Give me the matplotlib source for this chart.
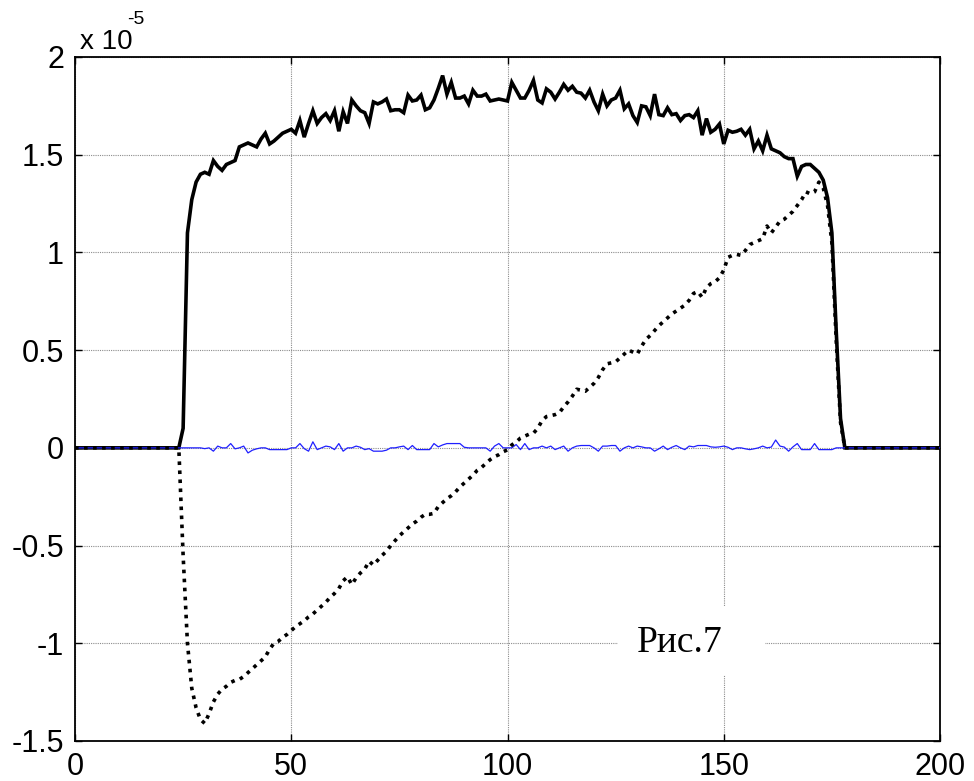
import matplotlib
matplotlib.use("Agg")
import matplotlib.pyplot as plt
from matplotlib.patches import Rectangle

plt.rcParams['axes.unicode_minus'] = False
plt.rcParams['font.family'] = ['Liberation Sans', 'DejaVu Sans']

x = list(range(0, 201))

solid = [
    0, 0, 0, 0, 0, 0, 0, 0, 0, 0,
    0, 0, 0, 0, 0, 0, 0, 0, 0, 0,
    0, 0, 0, 0, 0, 0.10, 1.10, 1.27, 1.36, 1.40,
    1.41, 1.40, 1.47, 1.44, 1.42, 1.45, 1.46, 1.47, 1.54, 1.55,
    1.56, 1.55, 1.54, 1.58, 1.61, 1.555, 1.57, 1.59, 1.61, 1.62,
    1.63, 1.61, 1.675, 1.59, 1.66, 1.725, 1.66, 1.69, 1.71, 1.675,
    1.725, 1.62, 1.72, 1.66, 1.78, 1.75, 1.725, 1.715, 1.66, 1.77,
    1.76, 1.77, 1.785, 1.725, 1.73, 1.73, 1.715, 1.805, 1.775, 1.78,
    1.805, 1.73, 1.74, 1.78, 1.84, 1.905, 1.81, 1.87, 1.79, 1.79,
    1.80, 1.76, 1.83, 1.80, 1.80, 1.81, 1.775, 1.78, 1.785, 1.78,
    1.775, 1.87, 1.83, 1.79, 1.79, 1.83, 1.88, 1.78, 1.765, 1.837,
    1.82, 1.785, 1.82, 1.86, 1.83, 1.85, 1.82, 1.815, 1.79, 1.83,
    1.77, 1.725, 1.81, 1.75, 1.78, 1.79, 1.83, 1.735, 1.76, 1.70,
    1.665, 1.75, 1.745, 1.70, 1.81, 1.705, 1.70, 1.74, 1.705, 1.71,
    1.675, 1.70, 1.705, 1.69, 1.725, 1.60, 1.685, 1.615, 1.63, 1.657,
    1.555, 1.625, 1.615, 1.62, 1.63, 1.60, 1.63, 1.53, 1.57, 1.52,
    1.60, 1.53, 1.52, 1.51, 1.49, 1.48, 1.48, 1.39, 1.44, 1.45,
    1.45, 1.43, 1.41, 1.37, 1.28, 1.10, 0.60, 0.15, 0, 0,
    0, 0, 0, 0, 0, 0, 0, 0, 0, 0,
    0, 0, 0, 0, 0, 0, 0, 0, 0, 0,
    0,
]

dotted = [
    0, 0, 0, 0, 0, 0, 0, 0, 0, 0,
    0, 0, 0, 0, 0, 0, 0, 0, 0, 0,
    0, 0, 0, 0, 0, -0.55, -1.00, -1.23, -1.33, -1.39,
    -1.41, -1.36, -1.30, -1.26, -1.235, -1.22, -1.20, -1.19, -1.185, -1.17,
    -1.15, -1.13, -1.11, -1.09, -1.07, -1.03, -1.00, -0.99, -0.97, -0.955,
    -0.935, -0.915, -0.90, -0.885, -0.865, -0.85, -0.83, -0.81, -0.79, -0.765,
    -0.745, -0.72, -0.68, -0.66, -0.70, -0.665, -0.64, -0.62, -0.58, -0.60,
    -0.575, -0.55, -0.53, -0.50, -0.475, -0.45, -0.43, -0.41, -0.39, -0.375,
    -0.355, -0.34, -0.34, -0.335, -0.30, -0.28, -0.26, -0.245, -0.225, -0.20,
    -0.18, -0.16, -0.14, -0.115, -0.10, -0.08, -0.06, -0.045, -0.035, -0.02,
    -0.01, 0.015, 0.03, 0.05, 0.06, 0.07, 0.075, 0.10, 0.14, 0.16,
    0.165, 0.17, 0.18, 0.21, 0.235, 0.265, 0.30, 0.295, 0.29, 0.31,
    0.33, 0.36, 0.40, 0.43, 0.435, 0.44, 0.46, 0.48, 0.50, 0.49,
    0.48, 0.52, 0.555, 0.575, 0.60, 0.625, 0.645, 0.665, 0.685, 0.70,
    0.715, 0.73, 0.755, 0.79, 0.80, 0.77, 0.82, 0.84, 0.85, 0.87,
    0.91, 0.975, 0.985, 0.99, 0.985, 1.01, 1.04, 1.05, 1.06, 1.07,
    1.135, 1.10, 1.13, 1.16, 1.17, 1.19, 1.21, 1.24, 1.27, 1.31,
    1.30, 1.31, 1.36, 1.33, 1.24, 1.05, 0.55, 0.13, 0, 0,
    0, 0, 0, 0, 0, 0, 0, 0, 0, 0,
    0, 0, 0, 0, 0, 0, 0, 0, 0, 0,
    0,
]

blue = [
    0, 0, 0, 0, 0, 0, 0, 0, 0, 0,
    0, 0, 0, 0, 0, 0, 0, 0, 0, 0,
    0, 0, 0, 0, 0, 0, 0, 0, 0, 0,
    -0.004, 0, -0.017, 0.009, 0, 0, 0.022, -0.005, 0, 0.009,
    -0.026, -0.012, -0.005, 0, 0, -0.009, -0.009, -0.009, -0.009, -0.009,
    0, 0, 0.022, -0.004, -0.017, 0.031, -0.009, 0, 0.009, 0.005,
    -0.009, 0.022, -0.017, 0, 0, 0.009, 0.003, -0.009, -0.004, -0.017,
    -0.017, -0.017, -0.012, 0, 0, 0.005, 0.009, -0.009, 0.012, -0.009,
    -0.009, -0.009, -0.009, 0.022, 0.005, 0.015, 0.022, 0.022, 0.022, 0.022,
    0.003, 0, 0, 0, 0, 0, -0.017, 0.009, 0.022, 0,
    0, 0, 0.017, -0.009, 0.022, -0.009, 0, 0, 0.009, 0,
    0.009, -0.009, 0, 0.009, -0.017, 0, 0.009, 0.012, 0.012, 0.012,
    0, -0.017, 0.009, 0.009, 0.012, 0.012, -0.017, 0, 0.009, 0,
    0.009, 0.005, 0, 0, -0.017, -0.005, 0.009, -0.009, 0.003, 0.012,
    0, -0.009, 0.009, 0.005, 0.012, 0.012, 0.012, 0.005, 0.003, 0.005,
    0.009, 0.003, -0.009, 0, 0, -0.005, -0.009, -0.005, 0, 0.009,
    0, 0.004, 0.04, 0.009, 0.004, -0.017, 0.005, 0.022, -0.009, -0.009,
    -0.009, 0.022, -0.009, -0.009, -0.009, -0.009, 0, 0, 0, 0,
    0, 0, 0, 0, 0, 0, 0, 0, 0, 0,
    0, 0, 0, 0, 0, 0, 0, 0, 0, 0,
    0,
]

x_ticks = [0, 50, 100, 150, 200]
y_ticks = [-1.5, -1, -0.5, 0, 0.5, 1, 1.5, 2]
y_tick_labels = ['-1.5', '-1', '-0.5', '0', '0.5', '1', '1.5', '2']

W, H = 974, 781
fig = plt.figure(figsize=(W / 100, H / 100), dpi=100)
ax = fig.add_axes([75 / W, 1 - 741 / H, 865 / W, 684 / H])

ax.plot(x, solid, color='black', lw=2.6, solid_joinstyle='miter', zorder=3)
ax.plot(x, blue, color='#1f1fff', lw=0.9, zorder=3)
ax.plot(x, dotted, color='black', lw=2.6, linestyle=(0, (1, 1.5)), zorder=4)

ax.set_xlim(0, 200)
ax.set_ylim(-1.5, 2)
ax.set_xticks(x_ticks)
ax.set_xticklabels([str(v) for v in x_ticks])
ax.set_yticks(y_ticks)
ax.set_yticklabels(y_tick_labels)
ax.grid(True, linestyle=(0, (1, 1)), color='#8c8c8c', lw=0.8)
ax.set_axisbelow(True)
ax.tick_params(direction='in', top=True, right=True, length=5, width=1,
               labelsize=22, pad=8)
for s in ax.spines.values():
    s.set_linewidth(1.3)

fig.text(80 / W, 1 - 49 / H, 'x 10', fontsize=20, ha='left', va='baseline')
fig.text(127 / W, 1 - 24 / H, '-5', fontsize=14, ha='left', va='baseline')

ax.add_patch(Rectangle((618 / W, 1 - 675 / H), 147 / W, 69 / H,
                       transform=fig.transFigure, facecolor='white',
                       edgecolor='none', zorder=2))
fig.text(680 / W, 1 - 652 / H, 'Рис.7', fontsize=27, ha='center',
         va='baseline', family=['Liberation Serif', 'DejaVu Serif'], zorder=5)

fig.savefig('out.png', dpi=100)
